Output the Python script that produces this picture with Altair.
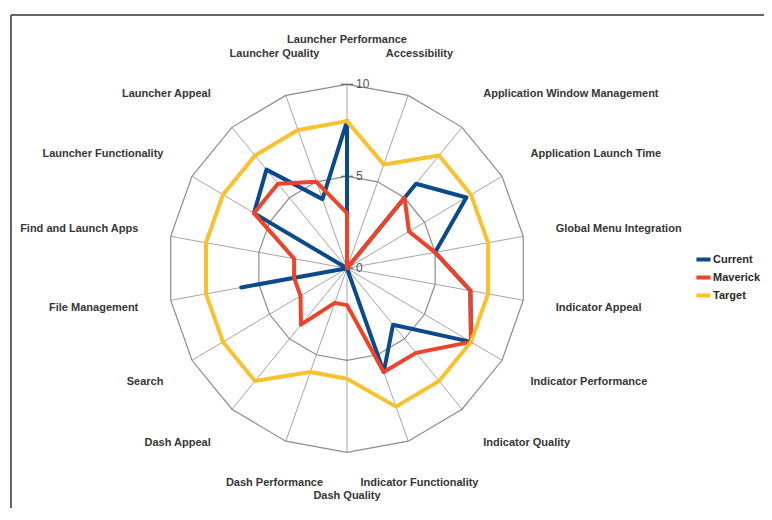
import altair as alt
import numpy as np
import pandas as pd

# ---------------- data ----------------
categories = [
    "Launcher Performance", "Accessibility", "Application Window Management",
    "Application Launch Time", "Global Menu Integration", "Indicator Appeal",
    "Indicator Performance", "Indicator Quality", "Indicator Functionality",
    "Dash Quality", "Dash Performance", "Dash Appeal", "Search",
    "File Management", "Find and Launch Apps", "Launcher Functionality",
    "Launcher Appeal", "Launcher Quality",
]
current = [8, 0, 6, 7.7, 5, 7, 8, 4, 6, 0, 0, 0, 0, 6, 0, 6, 7, 4]
maverick = [3, 0, 5, 4, 5, 7, 8, 6, 6, 2, 2, 4, 3, 3, 3, 6, 6, 5]
target = [8, 6, 8, 8, 8, 8, 8, 8, 8, 6, 6, 8, 8, 8, 8, 8, 8, 8]
series_names = ["Current", "Maverick", "Target"]
series_colors = ["#0b4a8a", "#ee4229", "#f8c12d"]
ring_levels = [5, 10]
tick_levels = [0, 5, 10]

# ---------------- geometry helpers ----------------
n = len(categories)
ang = np.deg2rad(np.arange(n) * 360.0 / n)
MAXV = 10

rows = []
for name, vals in zip(series_names, [current, maverick, target]):
    for i in range(n + 1):
        k = i % n
        rows.append({"series": name, "order": i,
                     "x": vals[k] * np.sin(ang[k]), "y": vals[k] * np.cos(ang[k])})
series_df = pd.DataFrame(rows)

spokes_df = pd.DataFrame({"x": 0.0, "y": 0.0,
                          "x2": MAXV * np.sin(ang), "y2": MAXV * np.cos(ang)})

ring_rows = []
for lv in ring_levels:
    for i in range(n + 1):
        k = i % n
        ring_rows.append({"level": lv, "order": i,
                          "x": lv * np.sin(ang[k]), "y": lv * np.cos(ang[k])})
rings_df = pd.DataFrame(ring_rows)

ticks_df = pd.DataFrame({"y": tick_levels, "x": -0.34, "x2": 0.34,
                         "t": [str(v) for v in tick_levels], "x0": 0.0})

deg = np.arange(n) * 360.0 / n
aligns = []
for d in deg:
    if d in (0, 20, 160, 180, 200, 340):
        aligns.append("center")
    elif d < 180:
        aligns.append("left")
    else:
        aligns.append("right")
labels_df = pd.DataFrame({"name": categories,
                          "x": 11.84 * np.sin(ang), "y": 12.39 * np.cos(ang),
                          "al": aligns})

# ---------------- scales ----------------
W, H = 756, 500
PX, PY = 17.9, 18.4
CX, CY = 339, 260.3
xs = alt.Scale(domain=[-CX / PX, (W - CX) / PX], nice=False, zero=False)
ys = alt.Scale(domain=[-(H - CY) / PY, CY / PY], nice=False, zero=False)
X = lambda f="x": alt.X(f"{f}:Q", scale=xs, axis=None)
Y = lambda f="y": alt.Y(f"{f}:Q", scale=ys, axis=None)

FONT = "Liberation Sans"

spokes = alt.Chart(spokes_df).mark_rule(stroke="#a6a6a6", strokeWidth=1).encode(
    x=X(), y=Y(), x2="x2:Q", y2="y2:Q")

rings = alt.Chart(rings_df).mark_line(stroke="#8c8c8c", strokeWidth=1.2).encode(
    x=X(), y=Y(), detail="level:N", order="order:Q")

ticks = alt.Chart(ticks_df).mark_rule(stroke="#666666", strokeWidth=1.2).encode(
    x=X(), x2="x2:Q", y=Y())

tick_text = alt.Chart(ticks_df).mark_text(
    align="left", baseline="middle", dx=9, fontSize=12, font=FONT, color="#555555"
).encode(x=X("x0"), y=Y(), text="t:N")

lines = alt.Chart(series_df).mark_line(
    strokeWidth=4, strokeJoin="round", strokeCap="round"
).encode(
    x=X(), y=Y(), order="order:Q",
    color=alt.Color("series:N",
                    scale=alt.Scale(domain=series_names, range=series_colors),
                    legend=alt.Legend(title=None, orient="none", legendX=686, legendY=242,
                                      symbolType="stroke", symbolStrokeWidth=4,
                                      symbolSize=200, labelFontSize=11, labelFont=FONT,
                                      labelFontWeight="bold",
                                      labelColor="#2a2a2a", rowPadding=-2, labelOffset=0,
                                      padding=0)),
)

label_layers = []
for a in ["left", "center", "right"]:
    label_layers.append(
        alt.Chart(labels_df).transform_filter(alt.datum.al == a).mark_text(
            align=a, baseline="middle", fontSize=11, font=FONT, fontWeight="bold",
            color="#363636"
        ).encode(x=X(), y=Y(), text="name:N")
    )

one = pd.DataFrame({"k": [0]})
frame_top = alt.Chart(one).mark_rule(stroke="#666666", strokeWidth=2).encode(
    x=alt.value(3), x2=alt.value(W), y=alt.value(7))
frame_left = alt.Chart(one).mark_rule(stroke="#666666", strokeWidth=2).encode(
    x=alt.value(3), y=alt.value(7), y2=alt.value(H))

chart = alt.layer(
    frame_top, frame_left, spokes, rings, ticks, tick_text, lines, *label_layers
).properties(
    width=W, height=H, padding=0, autosize=alt.AutoSizeParams(type="none"),
    background="white",
).configure_view(stroke=None)

chart.save("out.html", embed_options={"renderer": "svg", "actions": False})
